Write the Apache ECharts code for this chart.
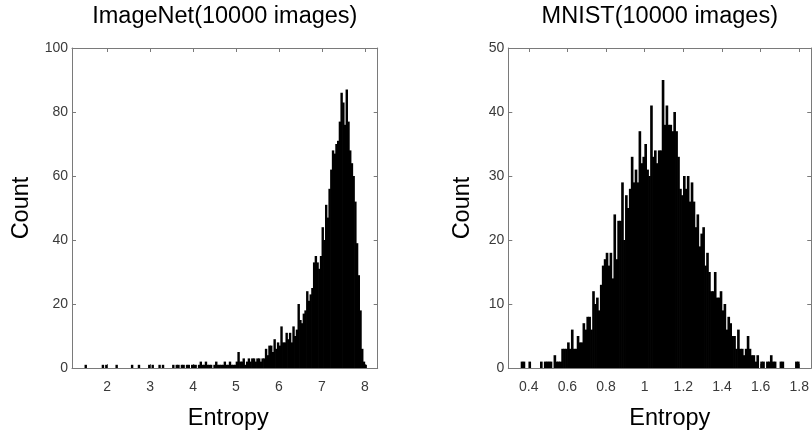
<!DOCTYPE html>
<html>
<head>
<meta charset="utf-8">
<script src="https://cdn.jsdelivr.net/npm/echarts@6/dist/echarts.min.js"></script>
<style>
html,body{margin:0;padding:0;background:#fff;}
#chart{width:812px;height:437px;}
</style>
</head>
<body>
<div id="chart"></div>
<script>
// ---- Data ----
const leftTitle = 'ImageNet(10000 images)';
const rightTitle = 'MNIST(10000 images)';
const xName = 'Entropy';
const yName = 'Count';

const leftBinStart = 1.40;
const leftBinWidth = 0.04;
const leftCounts = [
  0,0,1,0,0,0,0,0,0,0,
  0,0,1,0,1,0,0,0,0,0,
  1,0,0,0,0,0,0,0,0,1,
  0,0,0,1,0,0,0,0,0,1,
  0,1,0,0,0,1,0,1,0,0,
  0,0,0,1,0,1,1,0,1,1,
  0,1,1,0,1,1,1,0,1,2,
  1,1,2,1,1,1,0,1,2,1,
  1,1,1,2,1,1,2,1,1,1,
  2,5,2,2,3,1,2,3,2,3,
  3,2,3,3,2,3,3,6,4,7,
  7,5,9,6,8,7,13,8,8,11,
  9,11,8,13,10,12,20,15,14,17,
  18,24,21,23,25,33,35,33,31,35,
  44,40,51,47,56,62,68,67,70,71,
  77,86,83,76,87,77,68,64,60,52,
  39,29,18,6,2,1
];

const rightBinStart = 0.34;
const rightBinWidth = 0.01;
const rightCounts = [
  0,0,1,1,0,0,1,0,0,0,
  0,0,1,0,1,1,1,1,0,2,
  1,1,1,3,3,3,4,3,6,3,
  3,5,4,4,7,6,8,8,6,12,
  10,11,9,13,16,17,18,16,18,14,
  24,17,23,23,29,20,27,25,28,33,
  29,31,29,37,32,33,35,31,30,41,
  33,34,32,34,34,45,38,41,38,38,
  37,40,37,33,28,27,30,28,30,26,
  29,26,22,24,19,21,22,16,18,15,
  12,12,15,11,11,12,9,10,6,8,
  7,5,5,3,6,3,3,2,3,5,
  3,2,2,1,2,0,1,1,0,1,
  1,2,1,1,0,0,1,1,0,0,
  0,0,0,0,1,1
];

const leftXTicks = [2,3,4,5,6,7,8];
const rightXTicks = [0.4,0.6,0.8,1.0,1.2,1.4,1.6,1.8];
const leftYMax = 100, leftYStep = 20;
const rightYMax = 50, rightYStep = 10;

// ---- Build histogram bins ----
function bins(start, width, counts) {
  return counts.map((c, i) => [start + i * width, start + (i + 1) * width, c]);
}

const lineColor = '#7a7a7a';
const labelColor = '#3a3a3a';
const tickFont = "'Liberation Sans',Arial,sans-serif";
const mainFont = "'Liberation Sans',Arial,sans-serif";

function bottomX(grid, min, max, ticks, padLeft) {
  return {
    type: 'value', gridIndex: grid, position: 'bottom', min: min, max: max,
    name: xName, nameLocation: 'middle', nameGap: 39,
    nameTextStyle: {color: '#000', fontSize: 23.5, fontFamily: mainFont, padding: [0,0,0,padLeft]},
    axisLine: {show: true, onZero: false, lineStyle: {color: lineColor, width: 1}},
    axisTick: {show: true, inside: true, length: 4, customValues: ticks, lineStyle: {color: lineColor}},
    axisLabel: {show: true, customValues: ticks, margin: 12, color: labelColor, fontSize: 14, fontFamily: tickFont},
    splitLine: {show: false}
  };
}
function topX(grid, min, max, ticks, title) {
  return {
    type: 'value', gridIndex: grid, position: 'top', min: min, max: max,
    name: title, nameLocation: 'middle', nameGap: 19,
    nameTextStyle: {color: '#000', fontSize: 23.5, fontFamily: mainFont},
    axisLine: {show: true, onZero: false, lineStyle: {color: lineColor, width: 1}},
    axisTick: {show: true, inside: true, length: 4, customValues: ticks, lineStyle: {color: lineColor}},
    axisLabel: {show: false},
    splitLine: {show: false}
  };
}
function leftY(grid, max, step, gap) {
  return {
    type: 'value', gridIndex: grid, position: 'left', min: 0, max: max, interval: step,
    name: yName, nameLocation: 'middle', nameGap: gap,
    nameTextStyle: {color: '#000', fontSize: 23.5, fontFamily: mainFont},
    axisLine: {show: true, onZero: false, lineStyle: {color: lineColor, width: 1}},
    axisTick: {show: true, inside: true, length: 4, lineStyle: {color: lineColor}},
    axisLabel: {show: true, margin: 4, color: labelColor, fontSize: 14, fontFamily: tickFont},
    splitLine: {show: false}
  };
}
function rightY(grid, max, step) {
  return {
    type: 'value', gridIndex: grid, position: 'right', min: 0, max: max, interval: step,
    axisLine: {show: true, onZero: false, lineStyle: {color: lineColor, width: 1}},
    axisTick: {show: true, inside: true, length: 4, lineStyle: {color: lineColor}},
    axisLabel: {show: false},
    splitLine: {show: false}
  };
}
function histSeries(xi, yi, data) {
  return {
    type: 'custom', xAxisIndex: xi, yAxisIndex: yi, clip: true, silent: true,
    data: data,
    renderItem: function (params, api) {
      if (!api.value(2)) return null;
      const p0 = api.coord([api.value(0), 0]);
      const p1 = api.coord([api.value(1), api.value(2)]);
      return {
        type: 'rect',
        shape: {x: p0[0] - 0.35, y: p1[1], width: p1[0] - p0[0] + 0.7, height: p0[1] - p1[1]},
        style: {fill: '#000'}
      };
    }
  };
}

const chart = echarts.init(document.getElementById('chart'));
chart.setOption({
  animation: false,
  backgroundColor: '#fff',
  grid: [
    {left: 72, top: 46, width: 305.7, height: 322},
    {left: 508.3, top: 46, width: 305, height: 322}
  ],
  xAxis: [
    bottomX(0, 1.18, 8.3, leftXTicks, 7),
    topX(0, 1.18, 8.3, leftXTicks, leftTitle),
    bottomX(1, 0.294, 1.862, rightXTicks, 20),
    topX(1, 0.294, 1.862, rightXTicks, rightTitle)
  ],
  yAxis: [
    leftY(0, leftYMax, leftYStep, 38),
    rightY(0, leftYMax, leftYStep),
    leftY(1, rightYMax, rightYStep, 34),
    rightY(1, rightYMax, rightYStep)
  ],
  series: [
    histSeries(0, 0, bins(leftBinStart, leftBinWidth, leftCounts)),
    histSeries(2, 2, bins(rightBinStart, rightBinWidth, rightCounts))
  ]
});
</script>
</body>
</html>
